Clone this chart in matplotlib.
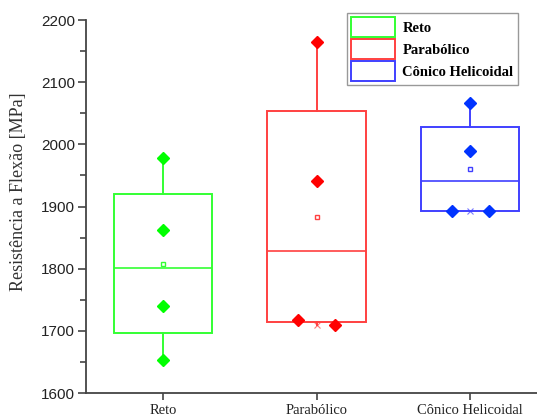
import numpy as np
import matplotlib
matplotlib.use("Agg")
import matplotlib.pyplot as plt
from matplotlib.patches import Patch

# Flexural strength measurements (MPa) per geometry
categories = ["Reto", "Parabólico", "Cônico Helicoidal"]
reto = [1978, 1862, 1740, 1653]
parabolico = [2165, 1941, 1717, 1710]
conico = [2067, 1989, 1893, 1892]
series = [reto, parabolico, conico]

yticks = [1600, 1700, 1800, 1900, 2000, 2100, 2200]

edge_colors = ["#33ff33", "#ff4040", "#4040ff"]
point_colors = ["#00ff00", "#ff0000", "#0033ff"]

serif = ["Liberation Serif", "DejaVu Serif"]
sans = ["Liberation Sans", "DejaVu Sans"]


def hinge_stats(values):
    v = np.sort(np.asarray(values, dtype=float))
    n = len(v)
    half = n // 2
    lower = v[:half]
    upper = v[n - half:]
    return {
        "med": float(np.median(v)),
        "q1": float(np.median(lower)),
        "q3": float(np.median(upper)),
        "whislo": float(v.min()),
        "whishi": float(v.max()),
        "mean": float(v.mean()),
        "fliers": [],
    }


fig = plt.figure(figsize=(5.37, 4.18), dpi=100)
ax = fig.add_axes([86 / 537, 25 / 418, 451 / 537, 373 / 418])

positions = np.arange(1, len(categories) + 1)
for i, (vals, pos) in enumerate(zip(series, positions)):
    st = hinge_stats(vals)
    ec = edge_colors[i]
    ax.bxp([st], positions=[pos], widths=0.64, showmeans=False,
           showcaps=False, patch_artist=True,
           boxprops=dict(facecolor="none", edgecolor=ec, linewidth=1.4),
           medianprops=dict(color=ec, linewidth=1.2),
           whiskerprops=dict(color=ec, linewidth=1.4))
    # raw data points, spreading near-coincident values sideways
    v = np.sort(np.asarray(vals, dtype=float))[::-1]
    offs = np.zeros(len(v))
    for k in range(len(v) - 1):
        if v[k] - v[k + 1] < 20:
            offs[k] = -0.12
            offs[k + 1] = 0.12
    # min / max markers
    ax.plot([pos, pos], [st["whislo"], st["whishi"]], ls="none", marker="x",
            ms=4, mew=0.8, color=ec, alpha=0.7, zorder=3)
    ax.plot(pos + offs, v, ls="none", marker="D", ms=6.5,
            color=point_colors[i], zorder=4)
    # mean marker
    ax.plot([pos], [st["mean"]], ls="none", marker="s", ms=3.5,
            mfc="white", mec=ec, mew=1.0, zorder=5)

ax.set_xlim(0.5, 0.5 + 451 / 153.7)
ax.set_ylim(1600, 2200)
ax.set_xticks(positions)
ax.set_xticklabels(categories, fontfamily=serif, fontsize=10.5, color="#222222")
ax.set_yticks(yticks)
ax.set_yticklabels([str(t) for t in yticks], fontfamily=sans, fontsize=11,
                   color="#222222")
ax.set_yticks(np.arange(1650, 2200, 100), minor=True)

for side in ["top", "right"]:
    ax.spines[side].set_visible(False)
for side in ["left", "bottom"]:
    ax.spines[side].set_color("#444444")
    ax.spines[side].set_linewidth(1.3)
ax.tick_params(axis="y", which="major", direction="out", length=6,
               width=1.2, color="#444444", pad=2)
ax.tick_params(axis="y", which="minor", direction="out", length=4,
               width=1.2, color="#444444")
ax.tick_params(axis="x", which="major", direction="out", length=5,
               width=1.2, color="#444444", pad=3)

ax.set_ylabel("Resistência a Flexão [MPa]", fontfamily=serif, fontsize=13,
              color="#333333")
ax.yaxis.set_label_coords(-0.131, 0.54)

handles = [Patch(facecolor="white", edgecolor=c, linewidth=1.4)
           for c in edge_colors]
leg = fig.legend(handles, categories, loc="upper left",
                 bbox_to_anchor=(347 / 537, 1 - 13 / 418),
                 prop=dict(family=serif, weight="bold", size=10.5),
                 frameon=True, fancybox=False, edgecolor="#808080",
                 handlelength=3.0, handleheight=1.7, labelspacing=0.15,
                 borderpad=0.3, handletextpad=0.5, borderaxespad=0)
leg.get_frame().set_linewidth(1.0)

fig.savefig("out.png", dpi=100)
